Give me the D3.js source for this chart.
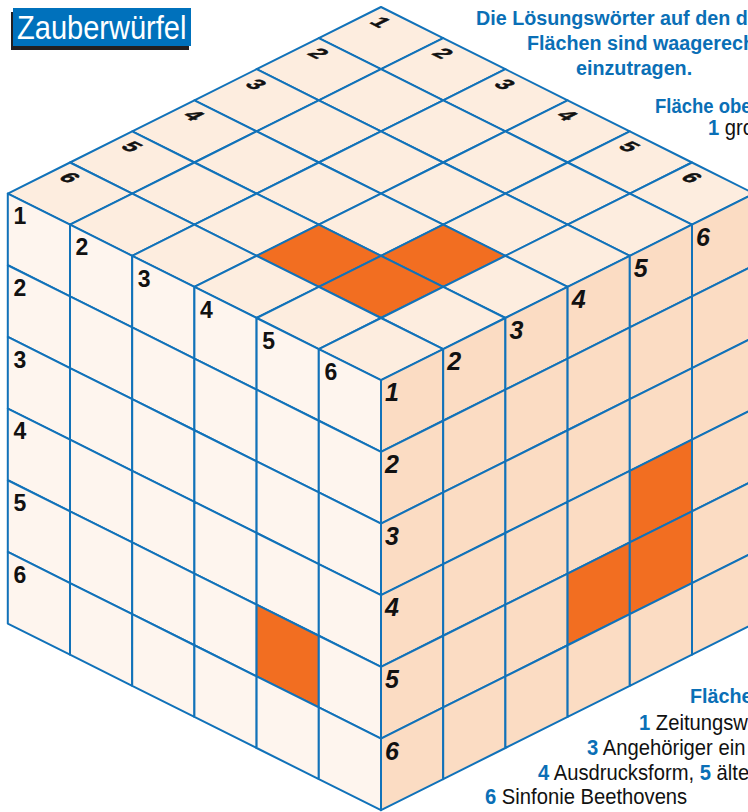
<!DOCTYPE html>
<html>
<head>
<meta charset="utf-8">
<script src="https://cdn.jsdelivr.net/npm/d3@7"></script>
<style>
  body { margin: 0; background: #fff; overflow: hidden; }
  svg { display: block; }
</style>
</head>
<body>
<div id="chart"></div>
<script>
// ---------- data ----------
var gridSize = 6;
var cellLabels = ["1", "2", "3", "4", "5", "6"];
// shaded (blocked) cells: [column, row] on each face
var topShaded = [[3, 4], [4, 3], [4, 4]];    // [j (to the right), i (to the left)]
var leftShaded = [[4, 4]];
var rightShaded = [[4, 3], [4, 4], [3, 4]];

var title = "Zauberwürfel";
var introLines = ["Die Lösungswörter auf den drei", "Flächen sind waagerecht", "einzutragen."];
var topClueHead = "Fläche obe";
var topClues = [[{ n: "1" }, { t: " gro" }]];
var rightClueHead = "Fläche";
var rightClues = [
  [{ n: "1" }, { t: " Zeitungsw" }],
  [{ n: "3" }, { t: " Angehöriger ein" }],
  [{ n: "4" }, { t: " Ausdrucksform, " }, { n: "5" }, { t: " älte" }],
  [{ n: "6" }, { t: " Sinfonie Beethovens" }]
];

// ---------- settings ----------
var attrs = {
  width: 748,
  height: 812,
  apex: [381, 7],
  cubeHalfWidth: 373.2,
  cubeSlope: 186.6,
  cubeDepth: 430,
  lineColor: "#1172b9",
  blue: "#0a6fb6",
  topFill: "#fdeddf",
  leftFill: "#fef5ee",
  rightFill: "#fbdcc3",
  shadeFill: "#f26e21",
  font: "'Liberation Sans', Arial, sans-serif"
};

var svg = d3.select("#chart").append("svg")
  .attr("width", attrs.width)
  .attr("height", attrs.height);

// isometric steps through scales
var stepX = d3.scaleLinear().domain([0, gridSize]).range([0, attrs.cubeHalfWidth]);
var stepY = d3.scaleLinear().domain([0, gridSize]).range([0, attrs.cubeSlope]);
var depth = d3.scaleLinear().domain([0, gridSize]).range([0, attrs.cubeDepth]);

var T = attrs.apex;
// top face: u -> right corner, v -> left corner
function topPt(u, v) { return [T[0] + stepX(u) - stepX(v), T[1] + stepY(u) + stepY(v)]; }
var L0 = topPt(0, gridSize), F0 = topPt(gridSize, gridSize);
// left face: u -> towards front edge, v -> down
function leftPt(u, v) { return [L0[0] + stepX(u), L0[1] + stepY(u) + depth(v)]; }
// right face: u -> towards right edge, v -> down
function rightPt(u, v) { return [F0[0] + stepX(u), F0[1] - stepY(u) + depth(v)]; }

var line = d3.line();

function drawFace(name, pt, fill, shaded) {
  var cells = [];
  d3.range(gridSize).forEach(function (r) {
    d3.range(gridSize).forEach(function (c) {
      var isShaded = shaded.some(function (s) { return s[0] === c && s[1] === r; });
      cells.push({ c: c, r: r, shaded: isShaded });
    });
  });
  var g = svg.append("g").attr("class", "face-" + name);
  g.selectAll("path").data(cells).enter().append("path")
    .attr("d", function (d) {
      return line([pt(d.c, d.r), pt(d.c + 1, d.r), pt(d.c + 1, d.r + 1), pt(d.c, d.r + 1)]) + "Z";
    })
    .attr("fill", function (d) { return d.shaded ? attrs.shadeFill : fill; })
    .attr("stroke", attrs.lineColor)
    .attr("stroke-width", 2)
    .attr("stroke-linejoin", "round");
}

drawFace("top", topPt, attrs.topFill, topShaded);
drawFace("left", leftPt, attrs.leftFill, leftShaded);
drawFace("right", rightPt, attrs.rightFill, rightShaded);

// ---------- cell numbers ----------
var numG = svg.append("g").attr("class", "numbers");

// top face: lying in the plane of the face
var topNums = [{ u: 0, v: 0, t: cellLabels[0] }];
d3.range(1, gridSize).forEach(function (k) {
  topNums.push({ u: 0, v: k, t: cellLabels[k] });
  topNums.push({ u: k, v: 0, t: cellLabels[k] });
});
numG.selectAll("text.top").data(topNums).enter().append("text")
  .attr("class", "top")
  .attr("transform", function (d) {
    var p = topPt(d.u, d.v);
    return "translate(" + p[0] + "," + (p[1] + 15) + ") matrix(0.894,0.447,-0.894,0.447,0,0)";
  })
  .attr("text-anchor", "middle")
  .attr("dy", "0.36em")
  .attr("font-family", attrs.font)
  .attr("font-weight", "bold")
  .attr("font-size", 22)
  .attr("fill", "#111")
  .attr("stroke", "#111")
  .attr("stroke-width", 0.6)
  .text(function (d) { return d.t; });

// left face: upright
var leftNums = [];
d3.range(gridSize).forEach(function (k) {
  leftNums.push({ u: 0, v: k, t: cellLabels[k] });
  if (k > 0) leftNums.push({ u: k, v: 0, t: cellLabels[k] });
});
numG.selectAll("text.left").data(leftNums).enter().append("text")
  .attr("class", "left")
  .attr("x", function (d) { return leftPt(d.u, d.v)[0] + 12; })
  .attr("y", function (d) { return leftPt(d.u, d.v)[1] + 22.5; })
  .attr("dy", "0.36em")
  .attr("text-anchor", "middle")
  .attr("font-family", attrs.font)
  .attr("font-weight", "bold")
  .attr("font-size", 23)
  .attr("fill", "#111")
  .text(function (d) { return d.t; });

// right face: italic
var rightNums = [];
d3.range(gridSize).forEach(function (k) {
  rightNums.push({ u: 0, v: k, t: cellLabels[k] });
  if (k > 0) rightNums.push({ u: k, v: 0, t: cellLabels[k] });
});
numG.selectAll("text.right").data(rightNums).enter().append("text")
  .attr("class", "right")
  .attr("x", function (d) { return rightPt(d.u, d.v)[0] + 11; })
  .attr("y", function (d) { return rightPt(d.u, d.v)[1] + 12; })
  .attr("dy", "0.36em")
  .attr("text-anchor", "middle")
  .attr("font-family", attrs.font)
  .attr("font-weight", "bold")
  .attr("font-style", "italic")
  .attr("font-size", 25)
  .attr("fill", "#111")
  .text(function (d) { return d.t; });

// ---------- title ----------
var titleG = svg.append("g").attr("class", "title");
titleG.append("rect").attr("x", 11).attr("y", 12).attr("width", 178).attr("height", 38).attr("fill", "#231f20");
titleG.append("rect").attr("x", 13).attr("y", 8).attr("width", 178).attr("height", 38).attr("fill", "#0071bc");
titleG.append("text")
  .attr("transform", "translate(17,39) scale(0.88,1)")
  .attr("font-family", attrs.font)
  .attr("font-size", 33)
  .attr("fill", "#fff")
  .text(title);

// ---------- instructions ----------
var introX = [476, 527, 576];
svg.append("g").selectAll("text").data(introLines).enter().append("text")
  .attr("transform", function (d, i) { return "translate(" + introX[i] + "," + (25 + i * 25) + ") scale(0.94,1)"; })
  .attr("font-family", attrs.font)
  .attr("font-weight", "bold")
  .attr("font-size", 21)
  .attr("fill", attrs.blue)
  .text(function (d) { return d; });

function clueBlock(head, headPos, headScale, lines, linePos) {
  var g = svg.append("g");
  g.append("text")
    .attr("transform", "translate(" + headPos[0] + "," + headPos[1] + ") scale(" + headScale + ",1)")
    .attr("font-family", attrs.font)
    .attr("font-weight", "bold")
    .attr("font-size", 21)
    .attr("fill", attrs.blue)
    .text(head);
  g.selectAll("text.clue").data(lines).enter().append("text")
    .attr("class", "clue")
    .attr("transform", function (d, i) { return "translate(" + linePos[i][0] + "," + linePos[i][1] + ") scale(0.94,1)"; })
    .attr("font-family", attrs.font)
    .attr("font-size", 21.5)
    .attr("fill", "#111")
    .each(function (d) {
      var t = d3.select(this);
      d.forEach(function (seg) {
        if (seg.n) t.append("tspan").attr("font-weight", "bold").attr("fill", attrs.blue).text(seg.n);
        else t.append("tspan").text(seg.t);
      });
    });
}

clueBlock(topClueHead, [655, 113], 0.88, topClues, [[708, 135]]);
clueBlock(rightClueHead, [690, 703], 0.94, rightClues, [[639, 730], [587, 755], [538, 780], [485, 804]]);
</script>
</body>
</html>
